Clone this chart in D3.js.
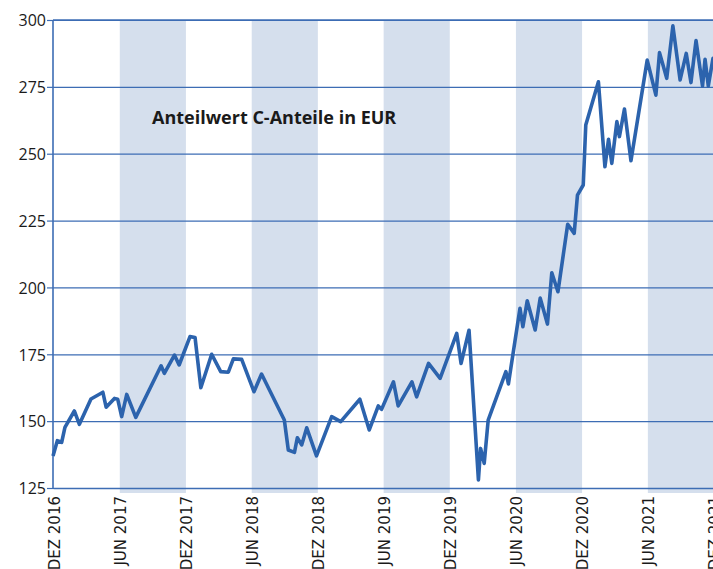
<!DOCTYPE html>
<html>
<head>
<meta charset="utf-8">
<script src="https://cdnjs.cloudflare.com/ajax/libs/d3/7.8.5/d3.min.js"></script>
<style>
  body { margin: 0; background: #fff; }
  svg { display: block; }
</style>
</head>
<body>
<div id="visHolder"></div>
<script>
var width = 713;
var height = 569;

// unit value (EUR)
var dates = [
  "2016-12-01", "2016-12-13", "2016-12-25", "2017-01-03", "2017-01-29", "2017-02-12", "2017-03-16", "2017-04-18",
  "2017-04-27", "2017-05-20", "2017-05-29", "2017-06-09", "2017-06-23", "2017-07-18", "2017-09-26", "2017-10-05",
  "2017-11-02", "2017-11-15", "2017-12-15", "2017-12-29", "2018-01-14", "2018-02-13", "2018-03-10", "2018-03-31",
  "2018-04-14", "2018-05-07", "2018-06-10", "2018-07-01", "2018-09-02", "2018-09-13", "2018-09-30", "2018-10-08",
  "2018-10-20", "2018-11-03", "2018-11-30", "2019-01-11", "2019-02-05", "2019-03-30", "2019-04-25", "2019-05-20",
  "2019-05-29", "2019-07-01", "2019-07-14", "2019-08-21", "2019-09-03", "2019-10-06", "2019-11-07", "2019-12-23",
  "2020-01-04", "2020-01-26", "2020-02-21", "2020-02-27", "2020-03-08", "2020-03-19", "2020-05-07", "2020-05-14",
  "2020-06-15", "2020-06-23", "2020-07-05", "2020-07-27", "2020-08-10", "2020-08-30", "2020-09-11", "2020-09-28",
  "2020-10-25", "2020-11-12", "2020-11-21", "2020-12-07", "2020-12-14", "2021-01-18", "2021-02-05", "2021-02-15",
  "2021-02-24", "2021-03-10", "2021-03-17", "2021-03-31", "2021-04-18", "2021-06-02", "2021-06-26", "2021-07-06",
  "2021-07-26", "2021-08-12", "2021-09-01", "2021-09-18", "2021-10-01", "2021-10-15", "2021-11-02", "2021-11-09",
  "2021-11-18", "2021-12-01", "2021-12-08"
];
var values = [
  137.0, 142.7, 142.1, 147.7, 153.8, 148.8, 158.3, 160.8,
  155.2, 158.5, 158.2, 151.7, 160.0, 151.4, 170.7, 167.9,
  174.7, 171.0, 181.6, 181.3, 162.5, 175.0, 168.5, 168.3,
  173.3, 173.1, 161.0, 167.6, 150.4, 139.2, 138.3, 143.8,
  141.1, 147.5, 137.0, 151.7, 149.8, 158.2, 146.7, 155.7,
  154.4, 164.7, 155.7, 164.7, 159.1, 171.6, 166.0, 182.8,
  171.6, 184.0, 128.0, 139.8, 134.2, 150.4, 168.5, 163.9,
  192.2, 185.3, 195.0, 184.1, 196.0, 186.3, 205.5, 198.4,
  223.6, 220.2, 234.5, 238.3, 260.7, 276.9, 245.1, 255.4,
  246.4, 262.0, 256.4, 266.7, 247.4, 285.0, 271.9, 287.8,
  278.2, 297.8, 277.6, 287.5, 276.6, 292.3, 275.3, 285.3,
  275.3, 285.7, 284.0
];

var tickDates = ["2016-12-01", "2017-06-01", "2017-12-01", "2018-06-01", "2018-12-01", "2019-06-01",
  "2019-12-01", "2020-06-01", "2020-12-01", "2021-06-01", "2021-12-01"];
var tickLabels = ["DEZ 2016", "JUN 2017", "DEZ 2017", "JUN 2018", "DEZ 2018", "JUN 2019",
  "DEZ 2019", "JUN 2020", "DEZ 2020", "JUN 2021", "DEZ 2021"];
var bandStarts = ["2017-06-01", "2018-06-01", "2019-06-01", "2020-06-01", "2021-06-01"];
var bandEnds = ["2017-12-01", "2018-12-01", "2019-12-01", "2020-12-01", "2021-12-01"];
var yTicks = [125, 150, 175, 200, 225, 250, 275, 300];
var title = "Anteilwert C-Anteile in EUR";

var blue = "#2c63ad";
var gridBlue = "#3d6db4";
var parse = d3.timeParse("%Y-%m-%d");

var data = dates.map((d, i) => ({ date: parse(d), value: values[i] }));

var plotLeft = 53, plotTop = 20, plotRight = 713, plotBottom = 488;

var xScale = d3
  .scaleTime()
  .domain([parse(tickDates[0]), parse(tickDates[tickDates.length - 1])])
  .range([plotLeft, plotRight]);

var yScale = d3
  .scaleLinear()
  .domain([125, 300])
  .range([plotBottom, plotTop]);

var svgContainer = d3
  .select("#visHolder")
  .append("svg")
  .attr("width", width)
  .attr("height", height);

// half-year shading (JUN - DEZ)
svgContainer
  .append("g")
  .selectAll("rect")
  .data(bandStarts)
  .enter()
  .append("rect")
  .attr("x", (d) => xScale(parse(d)) + 1)
  .attr("y", plotTop)
  .attr("width", (d, i) => xScale(parse(bandEnds[i])) - xScale(parse(d)))
  .attr("height", plotBottom - plotTop + 5)
  .attr("fill", "#d5dfed");

// gridlines
svgContainer
  .append("g")
  .attr("transform", "translate(" + plotLeft + ",0)")
  .call(d3.axisLeft(yScale).tickValues(yTicks).tickSize(-(plotRight - plotLeft)).tickFormat(""))
  .call((g) => g.select(".domain").remove())
  .call((g) => g.selectAll(".tick line").attr("stroke", gridBlue).attr("stroke-width", 1.2));

// y axis
var y_axis = svgContainer
  .append("g")
  .attr("id", "y-axis")
  .attr("transform", "translate(" + plotLeft + ",0)")
  .call(d3.axisLeft(yScale).tickValues(yTicks).tickSize(6).tickPadding(1));
y_axis.select(".domain").attr("stroke", gridBlue).attr("stroke-width", 1.6).attr("d", "M0," + (plotBottom + 0.5) + "V" + plotTop);
y_axis.selectAll(".tick line").attr("stroke", gridBlue).attr("stroke-width", 1.2);
y_axis.selectAll(".tick text")
  .attr("fill", "#1a1a1a")
  .attr("font-family", "'Open Sans', sans-serif")
  .attr("font-size", "16px")
  .attr("dy", "0.36em");

// x axis
var x_axis = svgContainer
  .append("g")
  .attr("id", "x-axis")
  .attr("transform", "translate(0," + plotBottom + ")")
  .call(d3.axisBottom(xScale)
    .tickValues(tickDates.map(parse))
    .tickSize(0)
    .tickFormat((d, i) => tickLabels[i]));
x_axis.select(".domain").attr("stroke", gridBlue).attr("stroke-width", 1.6);
x_axis.selectAll(".tick text")
  .attr("transform", "rotate(-90)")
  .attr("text-anchor", "end")
  .attr("x", -8)
  .attr("y", 1)
  .attr("dy", "0.36em")
  .attr("fill", "#1a1a1a")
  .attr("font-family", "'DejaVu Sans', sans-serif")
  .attr("font-size", "15px");

// top border
svgContainer
  .append("line")
  .attr("x1", plotLeft)
  .attr("x2", plotRight)
  .attr("y1", yScale(300))
  .attr("y2", yScale(300))
  .attr("stroke", gridBlue)
  .attr("stroke-width", 1.6);

// the line
var line = d3.line()
  .x((d) => xScale(d.date))
  .y((d) => yScale(d.value));

svgContainer
  .append("path")
  .datum(data)
  .attr("d", line)
  .attr("fill", "none")
  .attr("stroke", blue)
  .attr("stroke-width", 3.6)
  .attr("stroke-linejoin", "round");

svgContainer
  .append("text")
  .attr("x", 152)
  .attr("y", 124)
  .attr("font-family", "'Open Sans', sans-serif")
  .attr("font-weight", "bold")
  .attr("font-size", "18px")
  .attr("fill", "#1a1a1a")
  .text(title);
</script>
</body>
</html>
